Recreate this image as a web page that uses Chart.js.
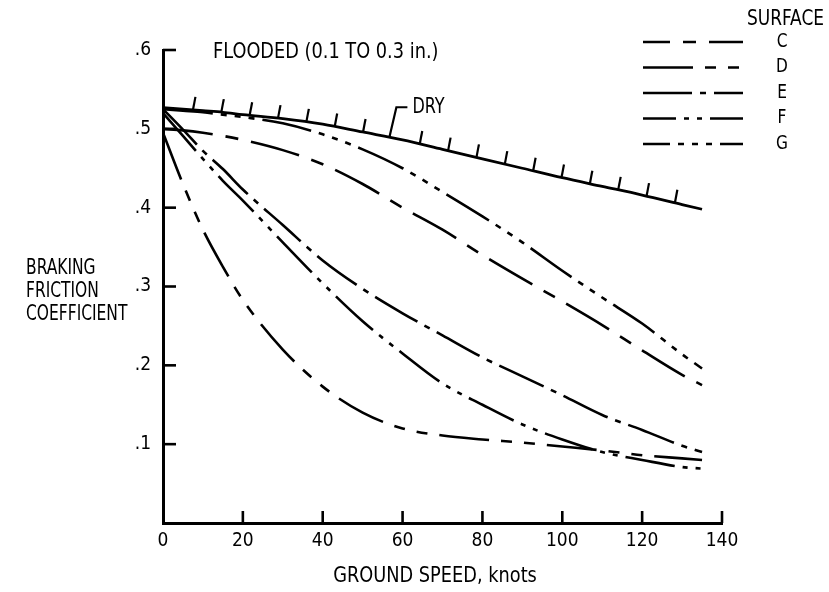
<!DOCTYPE html>
<html>
<head>
<meta charset="utf-8">
<title>Braking friction coefficient vs ground speed</title>
<script src="https://cdn.jsdelivr.net/npm/chart.js@4.4.1/dist/chart.umd.min.js"></script>
<style>
  html, body { margin: 0; padding: 0; background: #fff; }
  #wrap { position: relative; width: 829px; height: 592px; }
</style>
</head>
<body>
<div id="wrap"><canvas id="frictionChart"></canvas></div>
<script>
// ground speed, knots
const speeds = [0, 5, 10, 15, 20, 30, 40, 50, 60, 70, 80, 90, 100, 110, 120, 130, 135]

// braking friction coefficient per surface
const dryValues = [0.527, 0.525, 0.523, 0.521, 0.518, 0.513, 0.506, 0.496, 0.486, 0.474, 0.462, 0.45, 0.438, 0.427, 0.416, 0.404, 0.398]
const surfaceC = [0.5, 0.498, 0.495, 0.491, 0.486, 0.473, 0.455, 0.43, 0.4, 0.372, 0.34, 0.31, 0.281, 0.251, 0.219, 0.188, 0.175]
const surfaceD = [0.495, 0.43, 0.372, 0.325, 0.283, 0.22, 0.173, 0.14, 0.12, 0.111, 0.106, 0.102, 0.097, 0.092, 0.086, 0.082, 0.08]
const surfaceE = [0.525, 0.499, 0.472, 0.449, 0.423, 0.378, 0.333, 0.297, 0.266, 0.238, 0.21, 0.186, 0.162, 0.137, 0.118, 0.098, 0.09]
const surfaceF = [0.52, 0.491, 0.462, 0.434, 0.409, 0.356, 0.304, 0.256, 0.215, 0.177, 0.15, 0.125, 0.106, 0.09, 0.08, 0.071, 0.069]
const surfaceG = [0.525, 0.523, 0.521, 0.518, 0.515, 0.507, 0.493, 0.474, 0.45, 0.42, 0.389, 0.356, 0.32, 0.286, 0.253, 0.214, 0.196]

const surfaceNames = ["C", "D", "E", "F", "G"]
const surfaceSeries = [surfaceC, surfaceD, surfaceE, surfaceF, surfaceG]
const surfaceDashes = [
  [50, 13, 13, 13],
  [50, 12, 11, 12, 11, 12],
  [49, 8, 6, 8],
  [50, 8, 5, 8, 5, 8],
  [50, 8, 6, 8, 6, 8, 6, 8],
]
// where each key sample starts in its dash pattern
const keyDashOffsets = [23, 0, 0, 17, 23]

// hatch marks along the dry curve, and where the DRY label leader sits
const hatchSpeeds = [7.5, 14.6, 21.7, 28.8, 35.9, 43, 50.1, 64.3, 71.4, 78.5, 85.6, 92.7, 99.8, 106.9, 114, 121.1, 128.2]
const dryLeaderSpeed = 56.7

const yTickLabels = ["", ".1", ".2", ".3", ".4", ".5", ".6"]
const yTitleLines = ["BRAKING", "FRICTION", "COEFFICIENT"]

const FONT = "'Liberation Sans Narrow', 'DejaVu Sans Condensed', 'Liberation Sans', sans-serif"
Chart.defaults.font.family = FONT
Chart.defaults.color = "#000"

function toPoints(values) {
  return speeds.map((s, i) => ({ x: s, y: values[i] }))
}

function valueAt(xs, ys, v) {
  for (let i = 1; i < xs.length; i++) {
    if (v <= xs[i]) {
      const f = (v - xs[i - 1]) / (xs[i] - xs[i - 1])
      return ys[i - 1] + f * (ys[i] - ys[i - 1])
    }
  }
  return ys[ys.length - 1]
}

const datasets = [
  {
    label: "DRY",
    data: toPoints(dryValues),
    borderColor: "#000",
    borderWidth: 2.8,
    pointRadius: 0,
    cubicInterpolationMode: "monotone",
  },
]
surfaceSeries.forEach((values, i) => {
  datasets.push({
    label: surfaceNames[i],
    data: toPoints(values),
    borderColor: "#000",
    borderWidth: 2.6,
    borderDash: surfaceDashes[i],
    pointRadius: 0,
    cubicInterpolationMode: "monotone",
  })
})

function strokeLine(ctx, x1, y1, x2, y2) {
  ctx.beginPath()
  ctx.moveTo(x1, y1)
  ctx.lineTo(x2, y2)
  ctx.stroke()
}

// text squeezed sideways to mimic a narrow typeface
function narrowText(ctx, text, x, y, size, squeeze, align) {
  ctx.save()
  ctx.translate(x, y)
  ctx.scale(squeeze, 1)
  ctx.font = size + "px " + FONT
  ctx.textAlign = align || "left"
  ctx.textBaseline = "middle"
  ctx.fillText(text, 0, 0)
  ctx.restore()
}

// axis ticks pointing inward, hatching, labels and the surface key
const chartDecor = {
  id: "chartDecor",
  afterDraw(chart) {
    const { ctx, chartArea, scales } = chart
    const x = scales.x
    const y = scales.y
    ctx.save()
    ctx.strokeStyle = "#000"
    ctx.fillStyle = "#000"
    ctx.lineCap = "butt"

    ctx.lineWidth = 2.6
    x.ticks.forEach((t) => {
      if (t.value === 0) return
      const px = x.getPixelForValue(t.value)
      strokeLine(ctx, px, chartArea.bottom, px, chartArea.bottom - 12)
    })
    y.ticks.forEach((t) => {
      if (t.value === 0) return
      const py = y.getPixelForValue(t.value)
      strokeLine(ctx, chartArea.left, py, chartArea.left + 13, py)
    })

    // hatch marks on the dry curve
    ctx.lineWidth = 2.2
    hatchSpeeds.forEach((s) => {
      const px = x.getPixelForValue(s)
      const py = y.getPixelForValue(valueAt(speeds, dryValues, s))
      strokeLine(ctx, px, py, px + 2.5, py - 13)
    })

    // DRY leader and label
    const lx = x.getPixelForValue(dryLeaderSpeed)
    const ly = y.getPixelForValue(valueAt(speeds, dryValues, dryLeaderSpeed))
    ctx.beginPath()
    ctx.moveTo(lx, ly)
    ctx.lineTo(lx + 7, ly - 30)
    ctx.lineTo(lx + 18, ly - 30)
    ctx.stroke()
    narrowText(ctx, "DRY", lx + 23, ly - 30, 21, 0.85)

    // condition note
    narrowText(ctx, "FLOODED (0.1 TO 0.3 in.)", 213, 53, 21, 0.94)

    // axis titles
    yTitleLines.forEach((line, i) => {
      narrowText(ctx, line, 26, 269 + i * 23, 21, 0.82)
    })
    narrowText(ctx, "GROUND SPEED, knots", 435, 577, 21, 0.94, "center")

    // surface key
    narrowText(ctx, "SURFACE", 747, 20, 21, 0.9)
    chart.data.datasets.slice(1).forEach((ds, i) => {
      const ky = 42 + i * 25.5
      ctx.setLineDash(ds.borderDash)
      ctx.lineDashOffset = keyDashOffsets[i]
      ctx.lineWidth = 2.6
      strokeLine(ctx, 643, ky, 743, ky)
      ctx.setLineDash([])
      narrowText(ctx, ds.label, 782, ky, 19, 0.9, "center")
    })
    ctx.restore()
  },
}

new Chart(document.getElementById("frictionChart"), {
  type: "line",
  data: { datasets },
  options: {
    responsive: true,
    maintainAspectRatio: false,
    animation: false,
    layout: { padding: { top: 50, right: 107, left: 0, bottom: 0 } },
    plugins: {
      legend: { display: false },
      tooltip: { enabled: false },
    },
    scales: {
      x: {
        type: "linear",
        min: 0,
        max: 140,
        ticks: { stepSize: 20, padding: -1, font: { size: 19 } },
        grid: { display: false },
        border: { display: true, width: 3, color: "#000" },
        afterFit: (scale) => { scale.height = 69 },
      },
      y: {
        min: 0,
        max: 0.6,
        ticks: {
          stepSize: 0.1,
          padding: 4,
          font: { size: 19 },
          callback: (value, index) => yTickLabels[index],
        },
        grid: { display: false },
        border: { display: true, width: 3, color: "#000" },
        afterFit: (scale) => { scale.width = 163 },
      },
    },
  },
  plugins: [chartDecor],
})
</script>
</body>
</html>
